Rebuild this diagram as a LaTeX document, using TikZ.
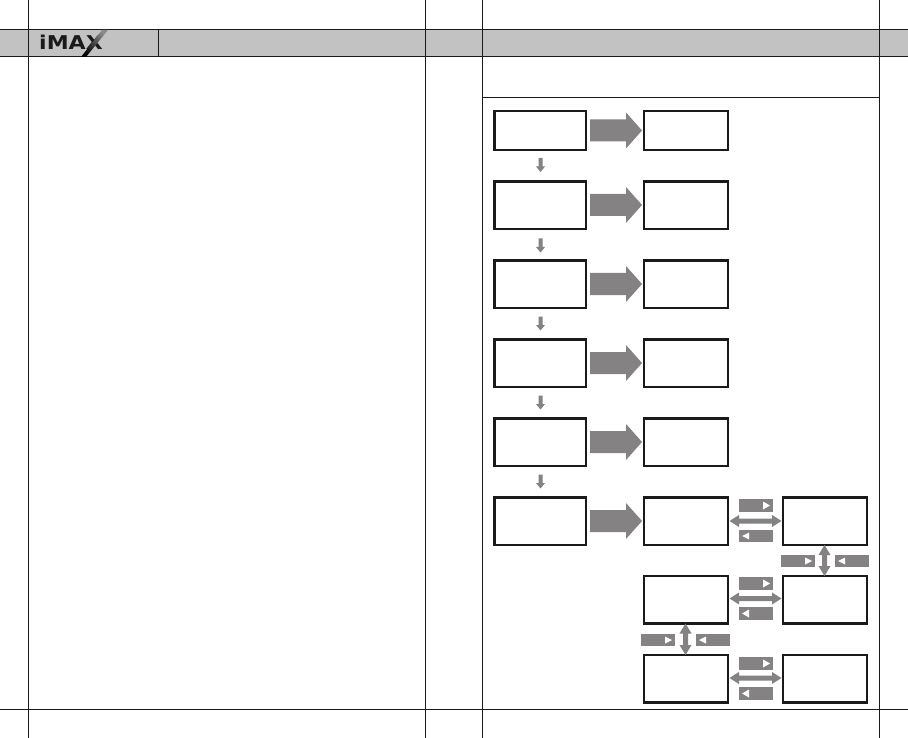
\documentclass[tikz,border=0pt]{standalone}
\usepackage{fontspec}
\setmainfont{DejaVu Sans}
\definecolor{band}{HTML}{C2C2C2}
\definecolor{arrowgrey}{HTML}{848282}
\definecolor{rule}{HTML}{1A1A1A}
\tikzset{
  x=1pt,y=-1pt,
  rulel/.style={draw=rule,line width=1pt},
  bigarrow/.style={fill=arrowgrey,draw=none},
  tagbox/.style={fill=arrowgrey,draw=none},
  tagtri/.style={fill=white,draw=none},
}
% box from corners
\newcommand{\bx}[5]{\path[draw=rule,line width=2.2pt,fill=white] (#2,#3) rectangle (#4,#5) coordinate[pos=.5] (#1);}
% big right arrow, y centre
\newcommand{\bigarr}[1]{\fill[bigarrow] (590,#1-11) -- (626,#1-11) -- (626,#1-18) -- (642,#1) -- (626,#1+18) -- (626,#1+11) -- (590,#1+11) -- cycle;}
% small down arrow, top y
\newcommand{\downarr}[1]{\fill[arrowgrey] (538.5,#1) -- (542.5,#1) -- (542.5,#1+8.5) -- (545,#1+8.5) -- (540.5,#1+14) -- (536,#1+8.5) -- (538.5,#1+8.5) -- cycle;}
% horizontal double arrow: y
\newcommand{\hdbl}[1]{\fill[arrowgrey] (729.5,#1) -- (739,#1-6) -- (739,#1-2.5) -- (772,#1-2.5) -- (772,#1-6) -- (781.5,#1) -- (772,#1+6) -- (772,#1+2.5) -- (739,#1+2.5) -- (739,#1+6) -- cycle;}
% vertical double arrow: x, y1, y2
\newcommand{\vdbl}[3]{\fill[arrowgrey] (#1,#2) -- (#1+6,#2+10) -- (#1+2.5,#2+10) -- (#1+2.5,#3-10) -- (#1+6,#3-10) -- (#1,#3) -- (#1-6,#3-10) -- (#1-2.5,#3-10) -- (#1-2.5,#2+10) -- (#1-6,#2+10) -- cycle;}
% tags: x1 y1 x2 y2
\newcommand{\tagr}[4]{\fill[tagbox] (#1,#2) rectangle (#3,#4); \fill[tagtri] (#3-10,#2+2.5) -- (#3-3,#2/2+#4/2) -- (#3-10,#4-2.5) -- cycle;}
\newcommand{\tagl}[4]{\fill[tagbox] (#1,#2) rectangle (#3,#4); \fill[tagtri] (#1+10,#2+2.5) -- (#1+3,#2/2+#4/2) -- (#1+10,#4-2.5) -- cycle;}
\begin{document}
\begin{tikzpicture}
\useasboundingbox (0,0) rectangle (908,738);
\fill[white] (0,0) rectangle (908,738);
% header band
\fill[band] (0,29.5) rectangle (908,57);
\draw[rulel] (0,29.5) -- (908,29.5);
\draw[rulel] (0,57) -- (908,57);
\draw[rulel] (0,709.5) -- (908,709.5);
\draw[rulel] (28.5,0) -- (28.5,738);
\draw[rulel] (425.5,0) -- (425.5,738);
\draw[rulel] (482.5,0) -- (482.5,738);
\draw[rulel] (879.5,0) -- (879.5,738);
\draw[rulel] (158.5,29.5) -- (158.5,57);
\draw[rulel] (482.5,97.5) -- (879.5,97.5);
% logo
\node[anchor=base west,inner sep=0pt,font=\bfseries\fontsize{19}{19}\selectfont,text=rule,xscale=1.16] (logo) at (39,50) {iMAX};
\shade[bottom color=black,top color=black!45,shading angle=-38] (81,57) -- (86,57) -- (108,30) -- (102,30) -- cycle;
% boxes
\bx{a1}{494.5}{111}{586}{150}
\bx{b1}{644}{111}{728}{150}
\bx{a2}{494.5}{181.5}{586}{229}
\bx{b2}{644}{181.5}{728}{229}
\bx{a3}{494.5}{260.5}{586}{308}
\bx{b3}{644}{260.5}{728}{308}
\bx{a4}{494.5}{339.5}{586}{387}
\bx{b4}{644}{339.5}{728}{387}
\bx{a5}{494.5}{418.5}{586}{466}
\bx{b5}{644}{418.5}{728}{466}
\bx{a6}{494.5}{497.5}{586}{545}
\bx{b6}{644}{497.5}{728}{545}
\bx{c6}{783}{497.5}{867}{545}
\bx{b7}{644}{576}{728}{623.5}
\bx{c7}{783}{576}{867}{623.5}
\bx{b8}{644}{655}{728}{702.5}
\bx{c8}{783}{655}{867}{702.5}
% big arrows
\bigarr{130.5}\bigarr{205}\bigarr{284}\bigarr{363}\bigarr{442}\bigarr{521}
% small arrows
\downarr{158}\downarr{238.5}\downarr{316.5}\downarr{395.5}\downarr{474.5}
% double arrows
\hdbl{521}\hdbl{598.5}\hdbl{678}
\vdbl{824.5}{545}{576}
\vdbl{685.5}{623.5}{655}
% tags
\tagr{739}{499}{773}{512}\tagl{739}{530}{773}{542}
\tagr{739}{577}{773}{590}\tagl{739}{607}{773}{620}
\tagr{739}{657}{773}{670}\tagl{739}{687}{773}{700}
\tagr{781}{555}{815}{567}\tagl{835}{555}{869}{567}
\tagr{641}{634}{675}{646}\tagl{696}{634}{730}{646}
\end{tikzpicture}
\end{document}
